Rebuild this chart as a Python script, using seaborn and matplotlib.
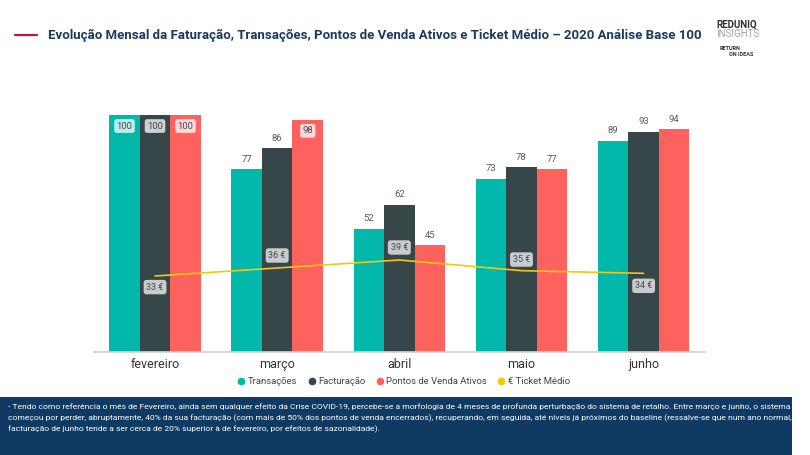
import numpy as np
import pandas as pd
import matplotlib
matplotlib.use("Agg")
import matplotlib.pyplot as plt
import seaborn as sns
from matplotlib.lines import Line2D
from matplotlib.patches import Rectangle

meses = ["fevereiro", "março", "abril", "maio", "junho"]
series = ["Transações", "Facturação", "Pontos de Venda Ativos"]
transacoes = [100, 77, 52, 73, 89]
facturacao = [100, 86, 62, 78, 93]
pontos_venda = [100, 98, 45, 77, 94]
ticket_medio = [33, 36, 39, 35, 34]

cores = ["#01b8aa", "#374649", "#fd625e"]
cor_ticket = "#f2c80f"
navy = "#1b3a5c"

df = pd.DataFrame({
    "mes": meses * 3,
    "serie": [s for s in series for _ in meses],
    "valor": transacoes + facturacao + pontos_venda,
})
df_ticket = pd.DataFrame({"pos": np.arange(len(meses)), "ticket": ticket_medio})

sns.set_theme(style="white")
plt.rcParams["font.family"] = ["Roboto", "DejaVu Sans"]

fig = plt.figure(figsize=(8.1, 4.55), dpi=100)
ax = fig.add_axes([0.116, 0.2264, 0.754, 0.521])


def fit_width(txt, px):
    # scale a text so that it is px pixels wide
    fig.canvas.draw()
    r = fig.canvas.get_renderer()
    w = txt.get_window_extent(r).width
    txt.set_fontsize(txt.get_fontsize() * px / w)


sns.barplot(data=df, x="mes", y="valor", hue="serie", palette=cores,
            width=0.75, gap=0, saturation=1, linewidth=0, ax=ax, legend=False)
ax.set_ylim(0, 100)
ax.set_xlim(-0.5, 4.5)
ax.set_xlabel("")
ax.set_ylabel("")
ax.set_yticks([])
for s in ["top", "left", "right"]:
    ax.spines[s].set_visible(False)
ax.spines["bottom"].set_color("#d0d0d0")
ax.tick_params(axis="x", length=0, labelsize=9, labelcolor="#333333", pad=4)

# data labels on bars
for cont in ax.containers:
    for bar in cont:
        h = bar.get_height()
        xc = bar.get_x() + bar.get_width() / 2
        if h >= 95:
            ax.annotate(f"{h:.0f}", (xc, h), xytext=(0, -8), textcoords="offset points",
                        ha="center", va="center", fontsize=6.8, color="#444a55",
                        bbox=dict(boxstyle="round,pad=0.25", fc="white", ec="none", alpha=0.75))
        else:
            ax.annotate(f"{h:.0f}", (xc, h), xytext=(0, 4), textcoords="offset points",
                        ha="center", va="bottom", fontsize=6.8, color="#555a65")

# ticket medio on secondary axis
ax2 = ax.twinx()
sns.lineplot(data=df_ticket, x="pos", y="ticket", color=cor_ticket, linewidth=1.2, ax=ax2)
ax2.set_ylim(4.5, 93.4)
ax2.set_xlim(-0.5, 4.5)
ax2.set_yticks([])
ax2.set_ylabel("")
ax2.set_xlabel("")
for s in ax2.spines.values():
    s.set_visible(False)
offsets = [-8, 9, 9, 8, -9]
for i, v in enumerate(ticket_medio):
    ax2.annotate(f"{v} €", (i, v), xytext=(0, offsets[i]), textcoords="offset points",
                 ha="center", va="center", fontsize=6.5, color="#444a55",
                 bbox=dict(boxstyle="round,pad=0.3", fc="#c9cbcd", ec="none"))

# legend
handles = [Line2D([], [], marker="o", ls="", color=c, markersize=4.5) for c in cores + [cor_ticket]]
labels = series + ["€ Ticket Médio"]
fig.legend(handles, labels, loc="center", bbox_to_anchor=(0.495, 0.161), ncol=4,
           frameon=False, fontsize=6.8, handletextpad=-0.3, columnspacing=0.5,
           labelcolor="#444444")

# title
fig.add_artist(Line2D([15 / 810, 37 / 810], [0.923, 0.923], color="#c0143c", lw=1.6))
title = fig.text(48 / 810, 0.923, "Evolução Mensal da Faturação, Transações, Pontos de Venda Ativos e Ticket Médio – 2020 Análise Base 100",
                 ha="left", va="center", fontsize=10, fontweight="bold", color=navy)
fit_width(title, 652)

# logo
fig.text(716 / 810, 1 - 25 / 455, "REDUNIQ", fontsize=7, fontweight="bold", color="#2a2f3a", ha="left", va="center")
fig.text(716 / 810, 1 - 34 / 455, "INSIGHTS", fontsize=7, color="#a0a4aa", ha="left", va="center")
fig.text(720 / 810, 1 - 49 / 455, "RETURN", fontsize=4, fontweight="bold", color="#2a2f3a", ha="left", va="center")
fig.text(729 / 810, 1 - 55 / 455, "ON IDEAS", fontsize=4, fontweight="bold", color="#2a2f3a", ha="left", va="center")

# comment box
fig.add_artist(Rectangle((0, 0), 0.978, 58 / 455, transform=fig.transFigure,
                         facecolor="#0f3a62", edgecolor="none"))
linhas = [
    "- Tendo como referência o mês de Fevereiro, ainda sem qualquer efeito da Crise COVID-19, percebe-se a morfologia de 4 meses de profunda perturbação do sistema de retalho. Entre março e junho, o sistema",
    "começou por perder, abruptamente, 40% da sua facturação (com mais de 50% dos pontos de venda encerrados), recuperando, em seguida, até níveis já próximos do baseline (ressalve-se que num ano normal, a",
    "facturação de junho tende a ser cerca de 20% superior à de fevereiro, por efeitos de sazonalidade).",
]
largura = [776, 782]
notas = []
for k, linha in enumerate(linhas):
    t = fig.text(8 / 810, 1 - (407 + 11 * k) / 455, linha, ha="left", va="center",
                 fontsize=5.6, color="white")
    notas.append(t)
    if k < len(largura):
        fit_width(t, largura[k])
notas[-1].set_fontsize(min(t.get_fontsize() for t in notas[:-1]))

fig.savefig("out.png", dpi=100)
